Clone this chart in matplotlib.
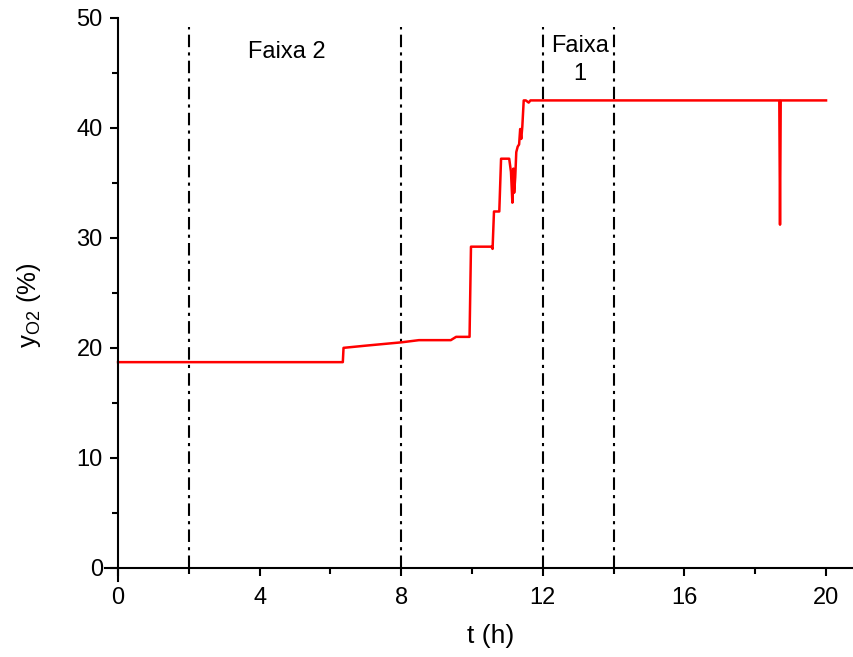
import matplotlib
matplotlib.use('Agg')
import matplotlib.pyplot as plt
from matplotlib.ticker import MultipleLocator

plt.rcParams['font.family'] = ['Liberation Sans', 'DejaVu Sans']
plt.rcParams['mathtext.fontset'] = 'custom'
plt.rcParams['mathtext.rm'] = 'Liberation Sans'

# oxygen fraction at the outlet
t = [0, 6.35, 6.37, 7.0, 8.0, 8.5, 9.0, 9.4, 9.55, 9.93, 9.97, 10.55, 10.58,
     10.62, 10.77, 10.82, 11.05, 11.1, 11.14, 11.17, 11.19, 11.22, 11.25,
     11.29, 11.33, 11.36, 11.39, 11.42, 11.46, 11.52, 11.6, 11.65, 18.68,
     18.7, 18.72, 20]
y = [18.7, 18.7, 20.0, 20.2, 20.5, 20.7, 20.7, 20.7, 21.0, 21.0, 29.2, 29.2,
     29.0, 32.4, 32.4, 37.2, 37.2, 36.0, 33.2, 36.3, 34.1, 35.5, 37.8, 38.3,
     38.5, 39.9, 39.0, 40.1, 42.5, 42.5, 42.3, 42.5, 42.5, 31.2, 42.5, 42.5]

faixa_lines = [2, 8, 12, 14]

fig = plt.figure(figsize=(8.54, 6.57), dpi=100)
ax = fig.add_axes([0.123, 0.1157, 0.877, 0.857])

for xv in faixa_lines:
    ax.plot([xv, xv], [0, 49.2], color='black', lw=1.5,
            linestyle=(0, (6, 2.5, 1.5, 2.5)))

ax.plot(t, y, color='#ff0000', lw=1.8)

ax.text(4.77, 46.9, 'Faixa 2', fontsize=17, ha='center', va='center')
ax.text(13.05, 46.2, 'Faixa\n1', fontsize=17, ha='center', va='center',
        linespacing=1.35)

ax.set_xlim(-0.367, 20.79)
ax.set_ylim(-1.2, 50)
ax.spines['left'].set_position(('data', 0))
ax.spines['bottom'].set_position(('data', 0))
ax.spines['top'].set_visible(False)
ax.spines['right'].set_visible(False)
for s in ['left', 'bottom']:
    ax.spines[s].set_linewidth(1.5)

ax.xaxis.set_major_locator(MultipleLocator(4))
ax.xaxis.set_minor_locator(MultipleLocator(2))
ax.yaxis.set_major_locator(MultipleLocator(10))
ax.yaxis.set_minor_locator(MultipleLocator(5))
ax.tick_params(which='major', length=6, width=1.5, labelsize=17)
ax.tick_params(which='minor', length=4, width=1.5)
ax.tick_params(axis='x', which='major', pad=8)
ax.tick_params(axis='y', which='major', pad=5)
ax.set_xticks([0, 4, 8, 12, 16, 20])

ax.set_xlabel('t (h)', fontsize=19)
ax.set_ylabel(r'y$_{\rm O2}$ (%)', fontsize=18.5)
ax.xaxis.set_label_coords(0.515, -0.076)
ax.yaxis.set_label_coords(-0.083, 0.49)

fig.savefig('out.png', dpi=100)
